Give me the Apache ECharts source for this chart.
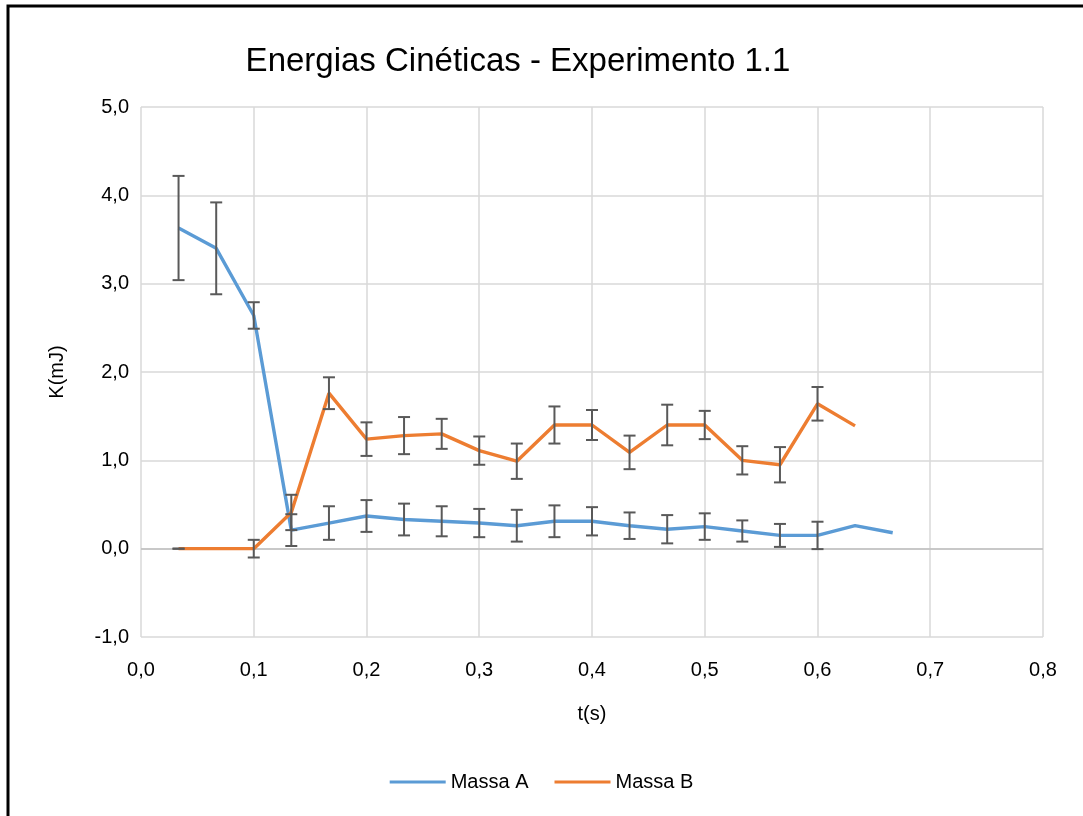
<!DOCTYPE html>
<html>
<head>
<meta charset="utf-8">
<script src="https://cdn.jsdelivr.net/npm/echarts@6/dist/echarts.min.js"></script>
<style>
html,body{margin:0;padding:0;background:#fff;}
#c{width:1083px;height:816px;}
</style>
</head>
<body>
<div id="c"></div>
<script>
// ---- data ----
var timesA = [0.0333,0.0667,0.1,0.1333,0.1667,0.2,0.2333,0.2667,0.3,0.3333,0.3667,0.4,0.4333,0.4667,0.5,0.5333,0.5667,0.6,0.6333,0.6667];
var massaA = [3.63,3.40,2.64,0.21,0.29,0.37,0.33,0.31,0.29,0.26,0.31,0.31,0.26,0.22,0.25,0.20,0.15,0.15,0.26,0.18];
var errA   = [0.59,0.52,0.15,0.18,0.19,0.18,0.18,0.17,0.16,0.18,0.18,0.16,0.15,0.16,0.15,0.12,0.13,0.155,null,null];

var timesB = [0.0333,0.0667,0.1,0.1333,0.1667,0.2,0.2333,0.2667,0.3,0.3333,0.3667,0.4,0.4333,0.4667,0.5,0.5333,0.5667,0.6,0.6333];
var massaB = [0,0,0,0.41,1.76,1.24,1.28,1.30,1.11,0.99,1.40,1.40,1.09,1.40,1.40,1.00,0.95,1.64,1.39];
var errB   = [0,null,0.10,0.20,0.18,0.19,0.21,0.17,0.16,0.20,0.21,0.17,0.19,0.23,0.16,0.16,0.20,0.19,null];

var xTicks = {min:0, max:0.8, interval:0.1};
var yTicks = {min:-1, max:5, interval:1};

var titleText = 'Energias Cinéticas - Experimento 1.1';
var seriesNames = ['Massa A','Massa B'];
var xName = 't(s)';
var yName = 'K(mJ)';

// ---- build ----
function pairs(t, v){ return t.map(function(x,i){ return [x, v[i]]; }); }
function errData(t, v, e){
  var out = [];
  t.forEach(function(x,i){ if (e[i] !== null && e[i] !== undefined) out.push([x, v[i], e[i]]); });
  return out;
}
function fmt(v){ return v.toFixed(1).replace('.', ','); }

function errRender(params, api){
  var x = api.value(0), y = api.value(1), e = api.value(2);
  var top = api.coord([x, y + e]);
  var bot = api.coord([x, y - e]);
  var hw = 6;
  var st = {stroke:'#595959', lineWidth:2};
  return {type:'group', children:[
    {type:'line', shape:{x1:top[0], y1:top[1], x2:bot[0], y2:bot[1]}, style:st},
    {type:'line', shape:{x1:top[0]-hw, y1:top[1], x2:top[0]+hw, y2:top[1]}, style:st},
    {type:'line', shape:{x1:bot[0]-hw, y1:bot[1], x2:bot[0]+hw, y2:bot[1]}, style:st}
  ]};
}

var FONT = '"Liberation Sans", "DejaVu Sans", sans-serif';

var chart = echarts.init(document.getElementById('c'), null, {renderer:'canvas'});
chart.setOption({
  animation:false,
  backgroundColor:'#fff',
  textStyle:{fontFamily:FONT},
  graphic:[{
    type:'rect', shape:{x:8, y:6, width:1200, height:1000},
    style:{fill:'none', stroke:'#000', lineWidth:3}, silent:true, z:100
  }],
  title:{
    text:titleText, left:513, top:40, textAlign:'center',
    textStyle:{fontFamily:FONT, fontSize:33, fontWeight:'normal', color:'#000'}
  },
  legend:{
    data:seriesNames, top:767, left:'center',
    itemWidth:56, itemHeight:3, itemGap:26, icon:'rect',
    textStyle:{fontFamily:FONT, fontSize:20, color:'#000'}
  },
  grid:{left:141, right:40, top:107, bottom:179, containLabel:false},
  xAxis:{
    type:'value', min:xTicks.min, max:xTicks.max, interval:xTicks.interval,
    name:xName, nameLocation:'middle', nameGap:67,
    nameTextStyle:{fontFamily:FONT, fontSize:20, color:'#000'},
    axisLine:{show:false, onZero:false}, axisTick:{show:false},
    axisLabel:{formatter:fmt, fontFamily:FONT, fontSize:20, color:'#000', margin:23},
    splitLine:{show:true, lineStyle:{color:'#d9d9d9', width:1.5}}
  },
  yAxis:{
    type:'value', min:yTicks.min, max:yTicks.max, interval:yTicks.interval,
    name:yName, nameLocation:'middle', nameGap:74, nameRotate:90,
    nameTextStyle:{fontFamily:FONT, fontSize:20, color:'#000'},
    axisLine:{show:false}, axisTick:{show:false},
    axisLabel:{formatter:fmt, fontFamily:FONT, fontSize:20, color:'#000', margin:12},
    splitLine:{show:true, lineStyle:{color:'#d9d9d9', width:1.5}}
  },
  series:[
    {
      name:seriesNames[0], type:'line', data:pairs(timesA, massaA),
      showSymbol:false, symbol:'none', color:'#5B9BD5',
      lineStyle:{width:3.4, color:'#5B9BD5'}, z:3,
      markLine:{silent:true, symbol:'none', label:{show:false},
        lineStyle:{color:'#bfbfbf', width:1.5, type:'solid'},
        data:[{yAxis:0}], z:1}
    },
    {
      name:seriesNames[1], type:'line', data:pairs(timesB, massaB),
      showSymbol:false, symbol:'none', color:'#ED7D31',
      lineStyle:{width:3.4, color:'#ED7D31'}, z:3
    },
    {type:'custom', renderItem:errRender, data:errData(timesA, massaA, errA), z:4, silent:true},
    {type:'custom', renderItem:errRender, data:errData(timesB, massaB, errB), z:4, silent:true}
  ]
});
</script>
</body>
</html>
